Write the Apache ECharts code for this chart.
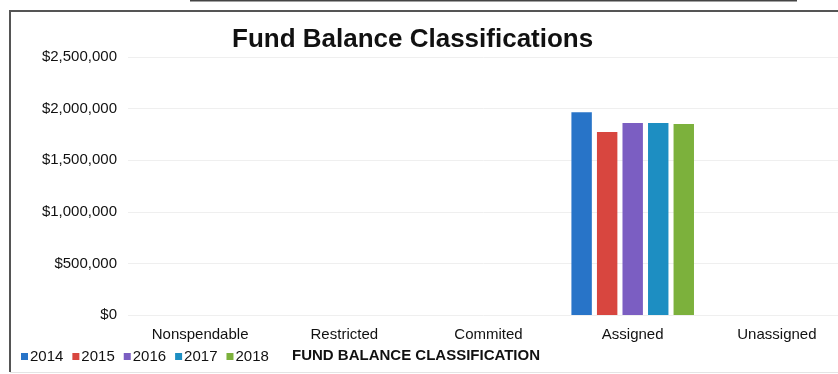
<!DOCTYPE html>
<html>
<head>
<meta charset="utf-8">
<script src="https://cdn.jsdelivr.net/npm/echarts@6/dist/echarts.min.js"></script>
<style>
  html, body { margin: 0; padding: 0; background: #fff; }
  #chart { width: 838px; height: 374px; }
</style>
</head>
<body>
<div id="chart"></div>
<script>
// Fund balance by classification, one bar per fiscal year
const categories = ['Nonspendable', 'Restricted', 'Commited', 'Assigned', 'Unassigned'];
const years = ['2014', '2015', '2016', '2017', '2018'];
const values2014 = [0, 0, 0, 1965000, 0];
const values2015 = [0, 0, 0, 1773000, 0];
const values2016 = [0, 0, 0, 1860000, 0];
const values2017 = [0, 0, 0, 1860000, 0];
const values2018 = [0, 0, 0, 1851000, 0];
const yearValues = [values2014, values2015, values2016, values2017, values2018];
const yearColors = ['#2874c8', '#d8463f', '#7b5ec2', '#1d8ec2', '#7cb13c'];

const FONT = '"Liberation Sans", Arial, sans-serif';

const chart = echarts.init(document.getElementById('chart'), null, { renderer: 'canvas' });

chart.setOption({
  backgroundColor: '#ffffff',
  animation: false,
  title: [
    {
      text: 'Fund Balance Classifications',
      left: 232,
      top: 27,
      padding: 0,
      textStyle: { fontFamily: FONT, fontSize: 26, fontWeight: 'bold', color: '#111' }
    },
    {
      text: 'FUND BALANCE CLASSIFICATION',
      left: 292,
      top: 348,
      padding: 0,
      textStyle: { fontFamily: FONT, fontSize: 15, fontWeight: 'bold', color: '#111' }
    }
  ],
  legend: {
    data: years,
    left: 21,
    top: 349,
    padding: 0,
    icon: 'rect',
    itemWidth: 7,
    itemHeight: 7,
    itemGap: 9,
    textStyle: { fontFamily: FONT, fontSize: 15, color: '#111', padding: [0, 0, 0, -3] }
  },
  // the plot area runs past the right edge of the page
  grid: { left: 128, width: 721, top: 57, height: 258, outerBoundsMode: 'none', containLabel: false },
  xAxis: {
    type: 'category',
    data: categories,
    axisLine: { show: false },
    axisTick: { show: false },
    axisLabel: { fontFamily: FONT, fontSize: 15, color: '#111', margin: 12 }
  },
  yAxis: {
    type: 'value',
    min: 0,
    max: 2500000,
    interval: 500000,
    axisLine: { show: false },
    axisTick: { show: false },
    splitLine: { lineStyle: { color: '#efefef', width: 1 } },
    axisLabel: {
      fontFamily: FONT,
      fontSize: 15,
      color: '#111',
      margin: 11,
      formatter: v => '$' + v.toLocaleString('en-US')
    }
  },
  series: years.map((y, i) => ({
    name: y,
    type: 'bar',
    data: yearValues[i],
    barGap: '25%',
    barCategoryGap: '15%',
    itemStyle: { color: yearColors[i] }
  })),
  graphic: [
    // page frame around the chart
    { type: 'line', shape: { x1: 10, y1: 11, x2: 838, y2: 11 }, style: { stroke: '#555', lineWidth: 2 } },
    { type: 'line', shape: { x1: 10, y1: 10, x2: 10, y2: 372 }, style: { stroke: '#555', lineWidth: 2 } },
    { type: 'line', shape: { x1: 10, y1: 372.5, x2: 838, y2: 372.5 }, style: { stroke: '#e4e4e4', lineWidth: 1 } },
    { type: 'line', shape: { x1: 190, y1: 0.5, x2: 797, y2: 0.5 }, style: { stroke: '#444', lineWidth: 2 } }
  ]
});
</script>
</body>
</html>
